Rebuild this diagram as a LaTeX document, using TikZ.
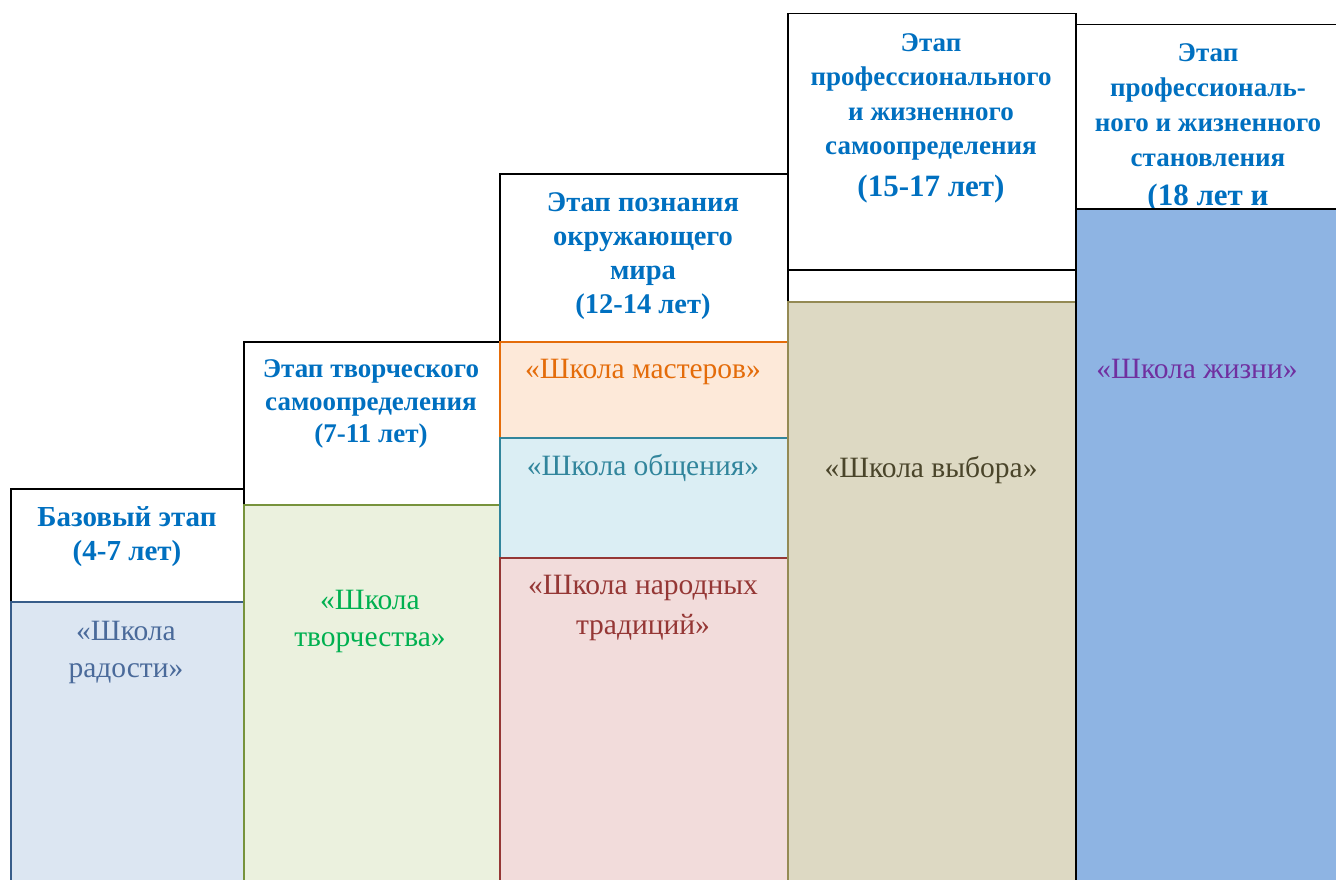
\documentclass[tikz,border=0pt]{standalone}
\usepackage{fontspec}
\setmainfont{Liberation Serif}
\usetikzlibrary{positioning}
\definecolor{hdblue}{HTML}{0070C0}
\definecolor{radfill}{HTML}{DCE6F2}
\definecolor{radline}{HTML}{385D8A}
\definecolor{radtext}{HTML}{4A6A9A}
\definecolor{tvfill}{HTML}{EBF1DE}
\definecolor{tvline}{HTML}{77933C}
\definecolor{tvtext}{HTML}{00B050}
\definecolor{msfill}{HTML}{FDE9D9}
\definecolor{msline}{HTML}{E46C0A}
\definecolor{obfill}{HTML}{DBEEF4}
\definecolor{obline}{HTML}{31859C}
\definecolor{nrfill}{HTML}{F2DCDB}
\definecolor{nrline}{HTML}{953735}
\definecolor{vbfill}{HTML}{DDD9C3}
\definecolor{vbline}{HTML}{948A54}
\definecolor{vbtext}{HTML}{4A452A}
\definecolor{zhfill}{HTML}{8EB4E3}
\definecolor{zhtext}{HTML}{7030A0}

\tikzset{
  stagebox/.style={draw=black, line width=1.5pt, fill=white, anchor=north west,
    inner sep=0pt, minimum width=#1},
  schoolbox/.style 2 args={draw=#2, line width=1.5pt, fill=#1, anchor=north west,
    inner sep=0pt},
  stagetext/.style={text=hdblue, align=center, inner sep=0pt,
    font=\bfseries\fontsize{27}{33}\selectfont},
  schooltext/.style={text=#1, align=center, inner sep=0pt,
    font=\fontsize{29.5}{37}\selectfont}
}

\begin{document}
\begin{tikzpicture}[x=1pt,y=-1pt]
  \clip (0,0) rectangle (1336,880);
  % first step
  \node[stagebox=233pt, minimum height=113pt] (baza) at (10,488) {};
  \node[stagetext, font=\bfseries\fontsize{29}{34}\selectfont] (bazaT) at (127,537) {Базовый этап\\(4-7 лет)};
  \node[schoolbox={radfill}{radline}, minimum width=233pt, minimum height=320pt] (radost) at (10,601) {};
  \node[schooltext=radtext] (radostT) at (126,652) {«Школа\\радости»};
  % second step
  \node[stagebox=256pt, minimum height=163pt] (tvor) at (243,341) {};
  \node[stagetext, font=\bfseries\fontsize{27}{32.5}\selectfont] (tvorT) at (371,404) {Этап творческого\\самоопределения\\(7-11 лет)};
  \node[schoolbox={tvfill}{tvline}, minimum width=256pt, minimum height=420pt] (tvorch) at (243,504) {};
  \node[schooltext=tvtext] (tvorchT) at (370,621) {«Школа\\творчества»};
  % third step
  \node[stagebox=288pt, minimum height=168pt] (pozn) at (499,173) {};
  \node[stagetext, font=\bfseries\fontsize{28.5}{34}\selectfont] (poznT) at (643,256) {Этап познания\\окружающего\\мира\\(12-14 лет)};
  \node[schoolbox={msfill}{msline}, minimum width=288pt, minimum height=96pt] (master) at (499,341) {};
  \node[schooltext=msline] (masterT) at (643,372) {«Школа мастеров»};
  \node[schoolbox={obfill}{obline}, minimum width=288pt, minimum height=120pt] (obsh) at (499,437) {};
  \node[schooltext=obline] (obshT) at (643,468) {«Школа общения»};
  \node[schoolbox={nrfill}{nrline}, minimum width=288pt, minimum height=360pt] (narod) at (499,557) {};
  \node[schooltext=nrline, font=\fontsize{29.5}{40}\selectfont] (narodT) at (643,608) {«Школа народных\\традиций»};
  % fourth step
  \node[stagebox=288pt, minimum height=256pt] (samo) at (787,13) {};
  \node[stagetext, anchor=north, font=\bfseries\fontsize{27}{34.5}\selectfont] (samoT) at (931,33)
    {Этап\\профессионального\\и жизненного\\самоопределения\\[7pt]{\fontsize{31}{40}\selectfont (15-17 лет)}};
  \node[stagebox=288pt, minimum height=32pt] (samoGap) at (787,269) {};
  \node[schoolbox={vbfill}{vbline}, minimum width=288pt, minimum height=620pt] (vybor) at (787,301) {};
  \node[schooltext=vbtext] (vyborT) at (931,470) {«Школа выбора»};
  % fifth step, the last line runs under the blue box
  \node[stagebox=300pt, minimum height=184pt] (stan) at (1075,24) {};
  \node[stagetext, anchor=north, font=\bfseries\fontsize{27}{35}\selectfont] (stanT) at (1208,43)
    {Этап\\профессиональ-\\ного и жизненного\\становления\\[4pt]{\fontsize{31}{38}\selectfont (18 лет и}};
  \node[schoolbox={zhfill}{black}, minimum width=300pt, minimum height=700pt] (zhizn) at (1075,208) {};
  \node[schooltext=zhtext] (zhiznT) at (1197,369) {«Школа жизни»};
\end{tikzpicture}
\end{document}
